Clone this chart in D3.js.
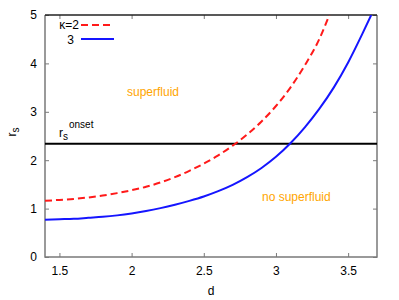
<!DOCTYPE html>
<html>
<head>
<meta charset="utf-8">
<script src="https://cdn.jsdelivr.net/npm/d3@7"></script>
<style>
  body { margin: 0; background: #fff; }
  svg { display: block; font-family: "Liberation Sans", Arial, sans-serif; }
</style>
</head>
<body>
<svg id="chart" width="399" height="300"></svg>
<script>
// values
const redD = [1.4, 1.5, 1.6, 1.7, 1.8, 1.9, 2.0, 2.1, 2.2, 2.3, 2.4, 2.5, 2.6, 2.7, 2.8, 2.9, 3.0, 3.1, 3.2, 3.3, 3.37]
const redR = [1.16, 1.18, 1.20, 1.23, 1.27, 1.32, 1.38, 1.45, 1.54, 1.65, 1.78, 1.93, 2.10, 2.30, 2.53, 2.80, 3.12, 3.50, 3.96, 4.50, 5.0]
const blueD = [1.4, 1.5, 1.6, 1.7, 1.8, 1.9, 2.0, 2.1, 2.2, 2.3, 2.4, 2.5, 2.6, 2.7, 2.8, 2.9, 3.0, 3.1, 3.2, 3.3, 3.4, 3.5, 3.6, 3.66]
const blueR = [0.77, 0.78, 0.79, 0.81, 0.83, 0.86, 0.90, 0.95, 1.01, 1.08, 1.16, 1.25, 1.36, 1.49, 1.65, 1.84, 2.07, 2.35, 2.68, 3.06, 3.50, 4.02, 4.62, 5.0]
const onset = 2.34
const xTicks = [1.5, 2, 2.5, 3, 3.5]
const yTicks = [0, 1, 2, 3, 4, 5]

const margin = {top: 15, right: 22, bottom: 43, left: 45}
const width = 399, height = 300
const svg = d3.select('#chart')

const x = d3.scaleLinear().domain([1.4, 3.7]).range([margin.left, width - margin.right])
const y = d3.scaleLinear().domain([0, 5]).range([height - margin.bottom, margin.top])

svg.append('defs').append('clipPath').attr('id', 'clip')
  .append('rect')
  .attr('x', margin.left).attr('y', margin.top)
  .attr('width', x.range()[1] - margin.left)
  .attr('height', y.range()[0] - margin.top)

const grey = '#7a7a7a'

// axes (ticks inward, on all four sides)
const xAxis = d3.axisBottom(x).tickValues(xTicks).tickSize(-4).tickPadding(9).tickFormat(d3.format('~g'))
const xTop = d3.axisTop(x).tickValues(xTicks).tickSize(-4).tickFormat('')
const yAxis = d3.axisLeft(y).tickValues(yTicks).tickSize(-4).tickPadding(8).tickFormat(d3.format('d'))
const yRight = d3.axisRight(y).tickValues(yTicks).tickSize(-4).tickFormat('')

function styleAxis(g) {
  g.selectAll('.domain').remove()
  g.selectAll('line').attr('stroke', grey)
  g.selectAll('text').attr('font-size', 12).attr('fill', '#000')
}

svg.append('g').attr('transform', `translate(0,${y(0)})`).call(xAxis).call(styleAxis)
svg.append('g').attr('transform', `translate(0,${y(5)})`).call(xTop).call(styleAxis)
svg.append('g').attr('transform', `translate(${x(1.4)},0)`).call(yAxis).call(styleAxis)
svg.append('g').attr('transform', `translate(${x(3.7)},0)`).call(yRight).call(styleAxis)

// frame
svg.append('path')
  .attr('d', `M${x(1.4)},${y(5)}V${y(0)}H${x(3.7)}V${y(5)}`)
  .attr('fill', 'none').attr('stroke', grey).attr('stroke-width', 1.5)
svg.append('line')
  .attr('x1', x(1.4)).attr('x2', x(3.7)).attr('y1', y(5)).attr('y2', y(5))
  .attr('stroke', '#222').attr('stroke-width', 1.3)

// onset line
svg.append('line')
  .attr('x1', x(1.4)).attr('x2', x(3.7)).attr('y1', y(onset)).attr('y2', y(onset))
  .attr('stroke', '#000').attr('stroke-width', 2)

const line = d3.line().x(d => x(d[0])).y(d => y(d[1])).curve(d3.curveMonotoneX)
const plot = svg.append('g').attr('clip-path', 'url(#clip)')

plot.append('path')
  .datum(redD.map((d, i) => [d, redR[i]]))
  .attr('d', line)
  .attr('fill', 'none').attr('stroke', '#ff1a1a').attr('stroke-width', 2)
  .attr('stroke-dasharray', '7,4')

plot.append('path')
  .datum(blueD.map((d, i) => [d, blueR[i]]))
  .attr('d', line)
  .attr('fill', 'none').attr('stroke', '#1515ff').attr('stroke-width', 2)

// legend
const leg = svg.append('g')
leg.append('text').attr('x', 79).attr('y', 29).attr('text-anchor', 'end').attr('font-size', 12).text('κ=2')
leg.append('line').attr('x1', 81).attr('x2', 114).attr('y1', 25).attr('y2', 25)
  .attr('stroke', '#ff1a1a').attr('stroke-width', 2).attr('stroke-dasharray', '7,4')
leg.append('text').attr('x', 74).attr('y', 44).attr('text-anchor', 'end').attr('font-size', 12).text('3')
leg.append('line').attr('x1', 81).attr('x2', 114).attr('y1', 39).attr('y2', 39)
  .attr('stroke', '#1515ff').attr('stroke-width', 2)

// annotations
const orange = '#ffa500'
svg.append('text').attr('x', 127).attr('y', 96).attr('font-size', 12).attr('fill', orange).text('superfluid')
svg.append('text').attr('x', 262).attr('y', 201).attr('font-size', 12).attr('fill', orange).text('no superfluid')

const onsetLbl = svg.append('text').attr('x', 59).attr('y', 137).attr('font-size', 12)
onsetLbl.append('tspan').text('r')
onsetLbl.append('tspan').attr('dy', 3).attr('font-size', 10).text('s')
onsetLbl.append('tspan').attr('dy', -12).attr('dx', 1).attr('font-size', 10).text('onset')

// axis titles
svg.append('text').attr('x', 211).attr('y', 295).attr('text-anchor', 'middle').attr('font-size', 12).text('d')
const yl = svg.append('text').attr('transform', 'translate(16,132) rotate(-90)')
  .attr('text-anchor', 'middle').attr('font-size', 12)
yl.append('tspan').text('r')
yl.append('tspan').attr('dy', 3).attr('font-size', 10).text('s')
</script>
</body>
</html>
